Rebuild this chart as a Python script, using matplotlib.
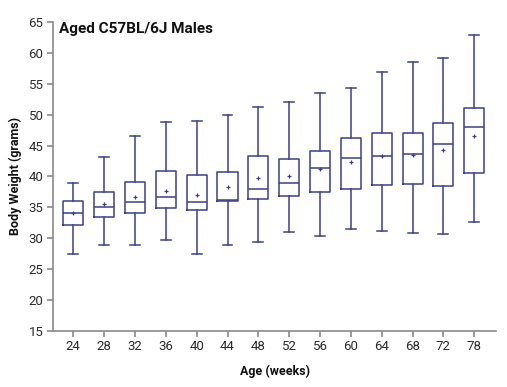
import numpy as np
import matplotlib
matplotlib.use('Agg')
import matplotlib.pyplot as plt

# values (grams)
ages = ['24', '28', '32', '36', '40', '44', '48', '52', '56', '60', '64', '68', '72', '78']
whis_lo = [27.4, 28.9, 28.9, 29.7, 27.5, 28.9, 29.4, 31.0, 30.3, 31.4, 31.2, 30.9, 30.7, 32.6]
q1 = [32.2, 33.4, 34.0, 34.8, 34.55, 35.95, 36.4, 36.9, 37.5, 38.0, 38.6, 38.7, 38.5, 40.5]
med = [34.0, 35.1, 35.85, 36.7, 35.85, 36.2, 38.0, 38.9, 41.3, 42.9, 43.25, 43.7, 45.2, 47.95]
q3 = [35.95, 37.5, 39.1, 40.9, 40.2, 40.65, 43.25, 42.8, 44.1, 46.25, 47.0, 47.1, 48.6, 51.0]
whis_hi = [39.0, 43.1, 46.6, 48.75, 48.95, 49.9, 51.2, 52.0, 53.45, 54.25, 56.85, 58.5, 59.1, 62.95]
means = [34.0, 35.6, 36.65, 37.7, 37.0, 38.3, 39.7, 40.1, 41.25, 42.3, 43.3, 43.5, 44.3, 46.6]

box_color = '#3c3f88'
axis_color = '#8a8a8a'
text_color = '#2b2b2b'

plt.rcParams['font.family'] = ['Roboto', 'DejaVu Sans']

stats = []
for i in range(len(ages)):
    stats.append({'whislo': whis_lo[i], 'q1': q1[i], 'med': med[i], 'q3': q3[i],
                  'whishi': whis_hi[i], 'mean': means[i], 'label': ages[i]})

fig = plt.figure(figsize=(5.07, 3.87), dpi=100)
ax = fig.add_axes([0.105, 0.1455, 0.873, 0.7975])

pos = np.arange(len(ages))
ax.bxp(stats, positions=pos, widths=0.65, capwidths=0.32, showmeans=True, showfliers=False,
       boxprops=dict(color=box_color, linewidth=1.1),
       whiskerprops=dict(color=box_color, linewidth=1.1),
       capprops=dict(color=box_color, linewidth=1.1),
       medianprops=dict(color=box_color, linewidth=1.1),
       meanprops=dict(marker='+', markeredgecolor=box_color, markersize=3.5, markeredgewidth=0.9))

ax.set_xlim(-0.65, 13.7)
ax.set_ylim(15, 65)
ax.set_yticks(range(15, 66, 5))
ax.set_xticks(pos)
ax.set_xticklabels(ages)

for s in ['top', 'right']:
    ax.spines[s].set_visible(False)
for s in ['left', 'bottom']:
    ax.spines[s].set_color(axis_color)
    ax.spines[s].set_linewidth(1.2)
ax.tick_params(colors=axis_color, labelcolor=text_color, labelsize=9.5, length=4, width=1.2, pad=3)

ax.text(0.012, 1.0, 'Aged C57BL/6J Males', transform=ax.transAxes, ha='left', va='top',
        fontsize=11, fontweight='bold', color='#111111')
ax.set_ylabel('Body Weight (grams)', fontsize=9, fontweight='bold', color='#111111', labelpad=5)
ax.set_xlabel('Age (weeks)', fontsize=9, fontweight='bold', color='#111111', labelpad=8)

fig.savefig('out.png', dpi=100)
